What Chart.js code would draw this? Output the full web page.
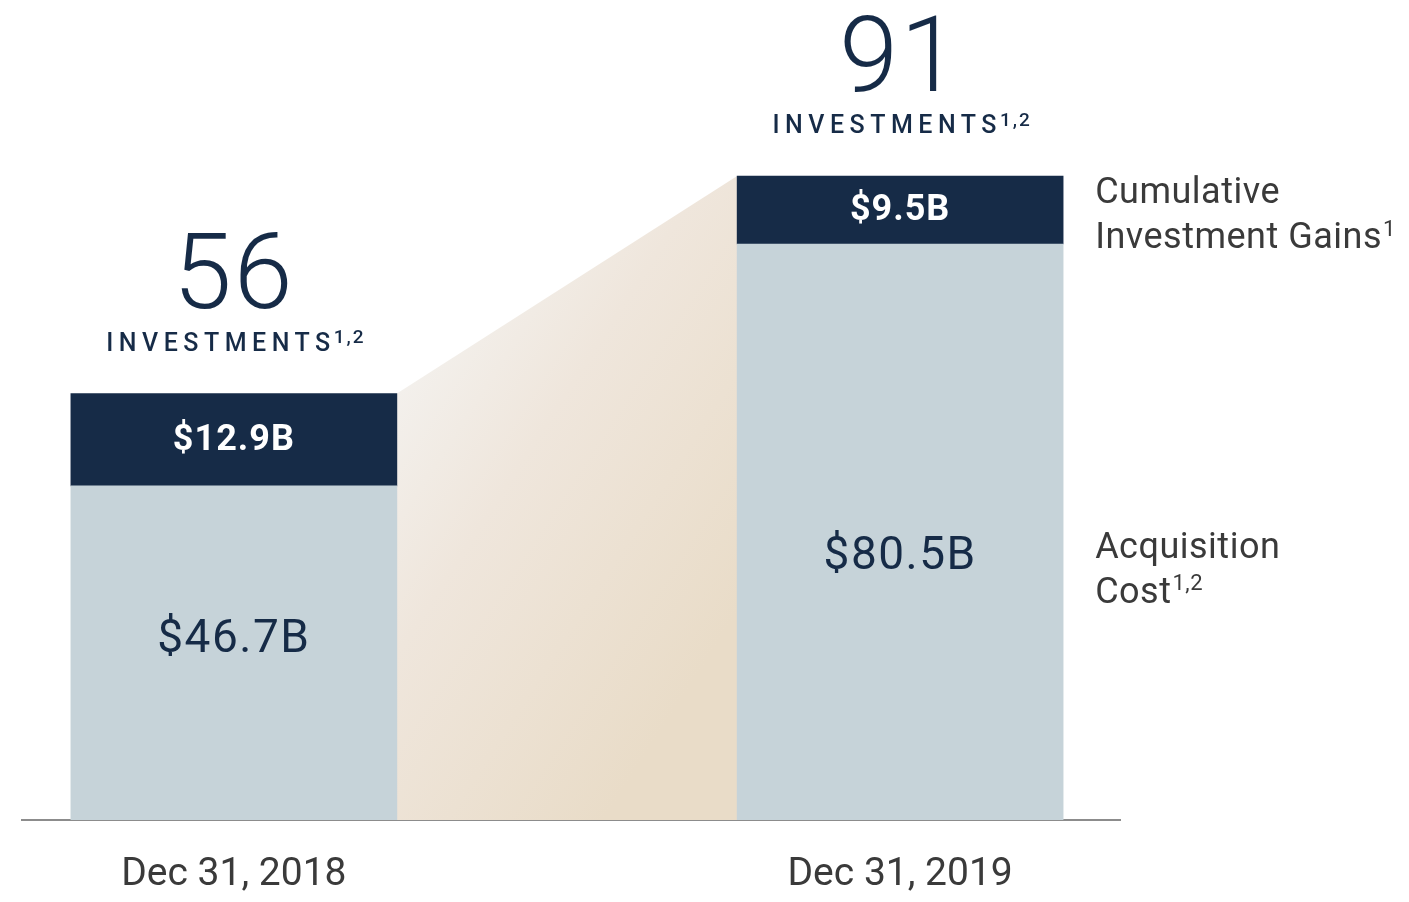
<!DOCTYPE html>
<html>
<head>
<meta charset="utf-8">
<script src="https://cdn.jsdelivr.net/npm/chart.js@4.4.1/dist/chart.umd.min.js"></script>
<style>
  html, body { margin: 0; padding: 0; background: #ffffff; }
  #wrap { position: relative; width: 1409px; height: 902px; }
</style>
</head>
<body>
<div id="wrap"><canvas id="chart"></canvas></div>
<script>
// --- data ---
const categories = ['Dec 31, 2018', 'Dec 31, 2019'];
const acquisitionCost = [46.7, 80.5];      // $B, light segment
const investmentGains = [12.9, 9.5];       // $B, dark segment
const investmentCounts = ['56', '91'];
const costLabels = ['$46.7B', '$80.5B'];
const gainLabels = ['$12.9B', '$9.5B'];

const NAVY = '#162b47';
const LIGHT = '#c6d3d9';
const GREY_TEXT = '#3a3a3a';

// shaded wedge between the two bars, drawn behind the bars
const wedgePlugin = {
  id: 'wedge',
  beforeDatasetsDraw(chart) {
    const ctx = chart.ctx;
    const top = chart.getDatasetMeta(1).data;
    const base = chart.scales.y.getPixelForValue(0);
    const a = top[0], b = top[1];
    const x1 = a.x + a.width / 2;
    const x2 = b.x - b.width / 2;
    const g = ctx.createLinearGradient(x1, a.y, x2, a.y + 220);
    g.addColorStop(0, '#f3f0ec');
    g.addColorStop(0.35, '#efe6dc');
    g.addColorStop(1, '#e9dcc8');
    ctx.save();
    ctx.beginPath();
    ctx.moveTo(x1, a.y);
    ctx.lineTo(x2, b.y);
    ctx.lineTo(x2, base);
    ctx.lineTo(x1, base);
    ctx.closePath();
    ctx.fillStyle = g;
    ctx.fill();
    ctx.restore();
  }
};

// all the text annotations
const labelPlugin = {
  id: 'labels',
  afterDatasetsDraw(chart) {
    const ctx = chart.ctx;
    const low = chart.getDatasetMeta(0).data;
    const high = chart.getDatasetMeta(1).data;
    const base = chart.scales.y.getPixelForValue(0);
    const costNudge = [-12, 26];
    ctx.save();
    ctx.textAlign = 'center';
    ctx.textBaseline = 'middle';

    for (let i = 0; i < 2; i++) {
      const cx = low[i].x;
      // dark segment label
      ctx.fillStyle = '#ffffff';
      ctx.font = 'bold 36px Roboto';
      ctx.letterSpacing = '1px';
      ctx.fillText(gainLabels[i], cx, (high[i].y + high[i].base) / 2 + 1);
      // light segment label
      ctx.fillStyle = NAVY;
      ctx.font = '46px Roboto';
      ctx.letterSpacing = '1.5px';
      ctx.fillText(costLabels[i], cx, (low[i].y + base) / 2 + costNudge[i]);

      // count + INVESTMENTS above the bar
      const topY = high[i].y;
      ctx.font = '300 106px Roboto';
      ctx.letterSpacing = '2px';
      ctx.fillText(investmentCounts[i], cx, topY - 112);

      ctx.font = '500 25px Roboto';
      ctx.letterSpacing = '5.5px';
      const word = 'INVESTMENTS';
      const ww = ctx.measureText(word).width;
      ctx.font = '500 19px Roboto';
      ctx.letterSpacing = '2px';
      const sw = ctx.measureText('1,2').width;
      const startX = cx + 3 - (ww + sw) / 2;
      ctx.textAlign = 'left';
      ctx.font = '500 25px Roboto';
      ctx.letterSpacing = '5.5px';
      ctx.fillText(word, startX, topY - 49);
      ctx.font = '500 19px Roboto';
      ctx.letterSpacing = '2px';
      ctx.fillText('1,2', startX + ww - 2, topY - 55);
      ctx.textAlign = 'center';
    }

    // series names on the right
    const rx = high[1].x + high[1].width / 2 + 32;
    ctx.textAlign = 'left';
    ctx.fillStyle = GREY_TEXT;
    ctx.letterSpacing = '0.5px';
    const writeLine = (txt, sup, y) => {
      ctx.font = '36px Roboto';
      ctx.fillText(txt, rx, y);
      if (sup) {
        const w = ctx.measureText(txt).width;
        ctx.font = '22px Roboto';
        ctx.fillText(sup, rx + w + 1, y - 9);
      }
    };
    writeLine('Cumulative', null, high[1].y + 18);
    writeLine('Investment Gains', '1', high[1].y + 63);
    writeLine('Acquisition', null, (low[1].y + base) / 2 + 17);
    writeLine('Cost', '1,2', (low[1].y + base) / 2 + 62);
    ctx.restore();
  }
};

new Chart(document.getElementById('chart'), {
  type: 'bar',
  data: {
    datasets: [
      {
        label: 'Acquisition Cost',
        data: acquisitionCost.map((v, i) => ({ x: i, y: v })),
        backgroundColor: LIGHT,
        barThickness: 326
      },
      {
        label: 'Cumulative Investment Gains',
        data: investmentGains.map((v, i) => ({ x: i, y: v })),
        backgroundColor: NAVY,
        barThickness: 326
      }
    ]
  },
  options: {
    responsive: true,
    maintainAspectRatio: false,
    animation: false,
    layout: { padding: { left: 22, right: 289, top: 0, bottom: 7 } },
    plugins: {
      legend: { display: false },
      tooltip: { enabled: false }
    },
    scales: {
      x: {
        type: 'linear',
        stacked: true,
        offset: false,
        min: -0.318,
        max: 1.33,
        grid: { display: false, drawTicks: false },
        border: { display: true, color: '#8c8c8c', width: 2 },
        afterBuildTicks: scale => { scale.ticks = [{ value: 0 }, { value: 1 }]; },
        afterFit: scale => { scale.height = 75; },
        ticks: {
          padding: 32,
          color: GREY_TEXT,
          font: { family: 'Roboto', size: 39 },
          callback: v => categories[v]
        }
      },
      y: {
        stacked: true,
        display: false,
        min: 0,
        max: 114.6
      }
    }
  },
  plugins: [wedgePlugin, labelPlugin]
});
</script>
</body>
</html>
